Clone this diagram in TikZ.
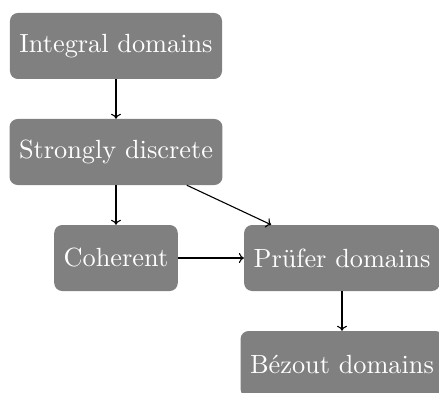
\documentclass[tikz,border=0pt]{standalone}
\usepackage{fontspec}
\usetikzlibrary{arrows.meta}
% ten-point design size of Latin Modern, set large
\newfontfamily\boxfont{lmroman10-regular.otf}
\begin{document}
\begin{tikzpicture}[x=1pt,y=1pt,
  box/.style={draw=none, fill=gray, text=white, rounded corners=8pt,
    minimum height=66pt, inner xsep=9.5pt,
    font=\boxfont\fontsize{26.3}{31}\selectfont},
  link/.style={-{Computer Modern Rightarrow[length=5pt,width=10pt]}, line width=1.1pt}]
  \useasboundingbox (0,0) rectangle (439,-393);
  \node[box] (id) at (116,-46)  {Integral domains};
  \node[box] (sd) at (116,-152) {Strongly discrete};
  \node[box] (co) at (116,-258) {Coherent};
  \node[box] (pf) at (342,-258) {Prüfer domains};
  \node[box] (bz) at (342,-364) {Bézout domains};
  \draw[link] (id) -- (sd);
  \draw[link] (sd) -- (co);
  \draw[link] (sd) -- (pf);
  \draw[link] (co) -- (pf);
  \draw[link] (pf) -- (bz);
\end{tikzpicture}
\end{document}
